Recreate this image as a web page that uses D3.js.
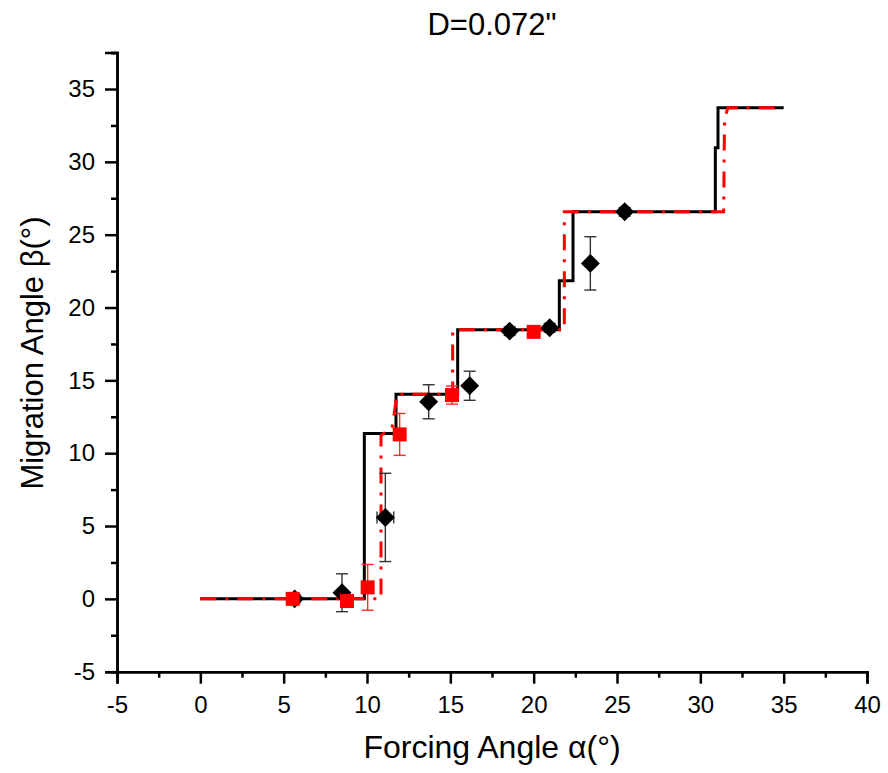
<!DOCTYPE html>
<html>
<head>
<meta charset="utf-8">
<script src="https://cdn.jsdelivr.net/npm/d3@7"></script>
<style>
  body { margin: 0; background: #fff; }
  text { font-family: "Liberation Sans", Arial, sans-serif; fill: #000; }
</style>
</head>
<body>
<div id="chart"></div>
<script>
// Chart data
var titleText = "D=0.072\"";
var xTicks = [-5, 0, 5, 10, 15, 20, 25, 30, 35, 40];
var yTicks = [-5, 0, 5, 10, 15, 20, 25, 30, 35];

// black solid step line: edges along alpha, levels of beta
var blackEdges = [0, 9.84, 11.74, 15.44, 21.54, 22.36, 30.9, 31.06, 35];
var blackLevels = [0, 11.36, 14.04, 18.47, 21.83, 26.57, 30.96, 33.71];

// red dash-dot line vertices
var redAlpha = [0, 10.84, 10.84, 11.0, 11.5, 11.8, 15.14, 15.14, 21.84, 21.84, 31.4, 31.45, 31.65, 35];
var redBeta = [0, 0, 11.2, 11.36, 11.7, 14.04, 14.04, 18.47, 18.47, 26.57, 26.57, 32.9, 33.71, 33.71];

// black diamonds (measured)
var diaAlpha = [5.66, 8.5, 11.1, 13.7, 16.16, 18.56, 20.96, 23.4, 25.46];
var diaBeta = [0.0, 0.42, 5.59, 13.53, 14.63, 18.38, 18.61, 23.03, 26.57];
var diaErr = [0.3, 1.3, 3.03, 1.17, 1.0, 0.3, 0.3, 1.83, 0.3];
var diaErrX = [0, 0, 0.5, 0, 0, 0, 0, 0, 0];

// red squares (measured)
var sqAlpha = [5.54, 8.8, 10.04, 11.96, 15.1, 20.0];
var sqBeta = [0.0, -0.15, 0.79, 11.29, 13.99, 18.33];
var sqErr = [0.3, 0.3, 1.57, 1.44, 0.62, 0.3];

var svgWidth = 888;
var svgHeight = 773;

var svg = d3.select("#chart")
  .append("svg")
  .attr("width", svgWidth)
  .attr("height", svgHeight);

var x = d3.scaleLinear().domain([-5, 40]).range([117, 867]);
var y = d3.scaleLinear().domain([-5, 37.5]).range([671.7, 52.6]);

// plain hyphen for negatives, like the original
var fmt = function(d) { return String(d); };

// minor ticks
var xMinor = d3.range(-2.5, 40, 5);
var yMinor = d3.range(-2.5, 40, 5);

var xAxisG = svg.append("g").attr("transform", "translate(0,671.7)");
xAxisG.call(d3.axisBottom(x).tickValues(xMinor).tickSize(6).tickFormat(""));
xAxisG.append("g").call(d3.axisBottom(x).tickValues(xTicks).tickSize(12).tickPadding(12).tickFormat(fmt));

var yAxisG = svg.append("g").attr("transform", "translate(117,0)");
yAxisG.call(d3.axisLeft(y).tickValues(yMinor).tickSize(6).tickFormat(""));
yAxisG.append("g").call(d3.axisLeft(y).tickValues(yTicks).tickSize(12).tickPadding(10).tickFormat(fmt));

svg.selectAll(".domain").attr("stroke", "#000").attr("stroke-width", 2.5);
svg.selectAll(".tick line").attr("stroke", "#000").attr("stroke-width", 2.5);
svg.selectAll(".tick text")
  .style("font-family", "'Liberation Sans', Arial, sans-serif")
  .style("font-size", "24px")
  .attr("fill", "#000");

// black step line
var blackPts = blackLevels.map(function(l, i) { return [blackEdges[i], l]; });
blackPts.push([blackEdges[blackEdges.length - 1], blackLevels[blackLevels.length - 1]]);

var stepLine = d3.line()
  .x(function(d) { return x(d[0]); })
  .y(function(d) { return y(d[1]); })
  .curve(d3.curveStepAfter);

svg.append("path")
  .datum(blackPts)
  .attr("d", stepLine)
  .attr("fill", "none")
  .attr("stroke", "#000")
  .attr("stroke-width", 3);

// red dash-dot line
var redPts = redAlpha.map(function(a, i) { return [a, redBeta[i]]; });
svg.append("path")
  .datum(redPts)
  .attr("d", d3.line().x(function(d) { return x(d[0]); }).y(function(d) { return y(d[1]); }))
  .attr("fill", "none")
  .attr("stroke", "#ff0000")
  .attr("stroke-width", 3)
  .attr("stroke-dasharray", "16,9,3,9");

// error bar helper
function errorBars(xs, ys, errs, color) {
  var g = svg.append("g").attr("stroke", color).attr("stroke-width", 1.4);
  xs.forEach(function(a, i) {
    var cx = x(a), top = y(ys[i] + errs[i]), bot = y(ys[i] - errs[i]);
    g.append("line").attr("x1", cx).attr("x2", cx).attr("y1", top).attr("y2", bot);
    g.append("line").attr("x1", cx - 6).attr("x2", cx + 6).attr("y1", top).attr("y2", top);
    g.append("line").attr("x1", cx - 6).attr("x2", cx + 6).attr("y1", bot).attr("y2", bot);
  });
  return g;
}

// black diamonds
var diaErrG = errorBars(diaAlpha, diaBeta, diaErr, "#333");
diaAlpha.forEach(function(a, i) {
  if (diaErrX[i] > 0) {
    var cy = y(diaBeta[i]), l = x(a - diaErrX[i]), r = x(a + diaErrX[i]);
    diaErrG.append("line").attr("x1", l).attr("x2", r).attr("y1", cy).attr("y2", cy);
    diaErrG.append("line").attr("x1", l).attr("x2", l).attr("y1", cy - 6).attr("y2", cy + 6);
    diaErrG.append("line").attr("x1", r).attr("x2", r).attr("y1", cy - 6).attr("y2", cy + 6);
  }
});

svg.append("g").selectAll("path")
  .data(diaAlpha)
  .enter()
  .append("path")
  .attr("d", d3.symbol().type(d3.symbolSquare).size(180))
  .attr("transform", function(d, i) { return "translate(" + x(d) + "," + y(diaBeta[i]) + ") rotate(45)"; })
  .attr("fill", "#000");

// red squares
errorBars(sqAlpha, sqBeta, sqErr, "#ff2a2a");
svg.append("g").selectAll("rect")
  .data(sqAlpha)
  .enter()
  .append("rect")
  .attr("x", function(d) { return x(d) - 7; })
  .attr("y", function(d, i) { return y(sqBeta[i]) - 7; })
  .attr("width", 14)
  .attr("height", 14)
  .attr("fill", "#ff0000");

// title and axis labels
svg.append("text")
  .attr("x", 492)
  .attr("y", 35)
  .attr("text-anchor", "middle")
  .style("font-size", "31px")
  .text(titleText);

svg.append("text")
  .attr("x", 492)
  .attr("y", 758)
  .attr("text-anchor", "middle")
  .style("font-size", "32px")
  .text("Forcing Angle α(°)");

svg.append("text")
  .attr("transform", "translate(43,353) rotate(-90)")
  .attr("text-anchor", "middle")
  .style("font-size", "31px")
  .text("Migration Angle β(°)");
</script>
</body>
</html>
